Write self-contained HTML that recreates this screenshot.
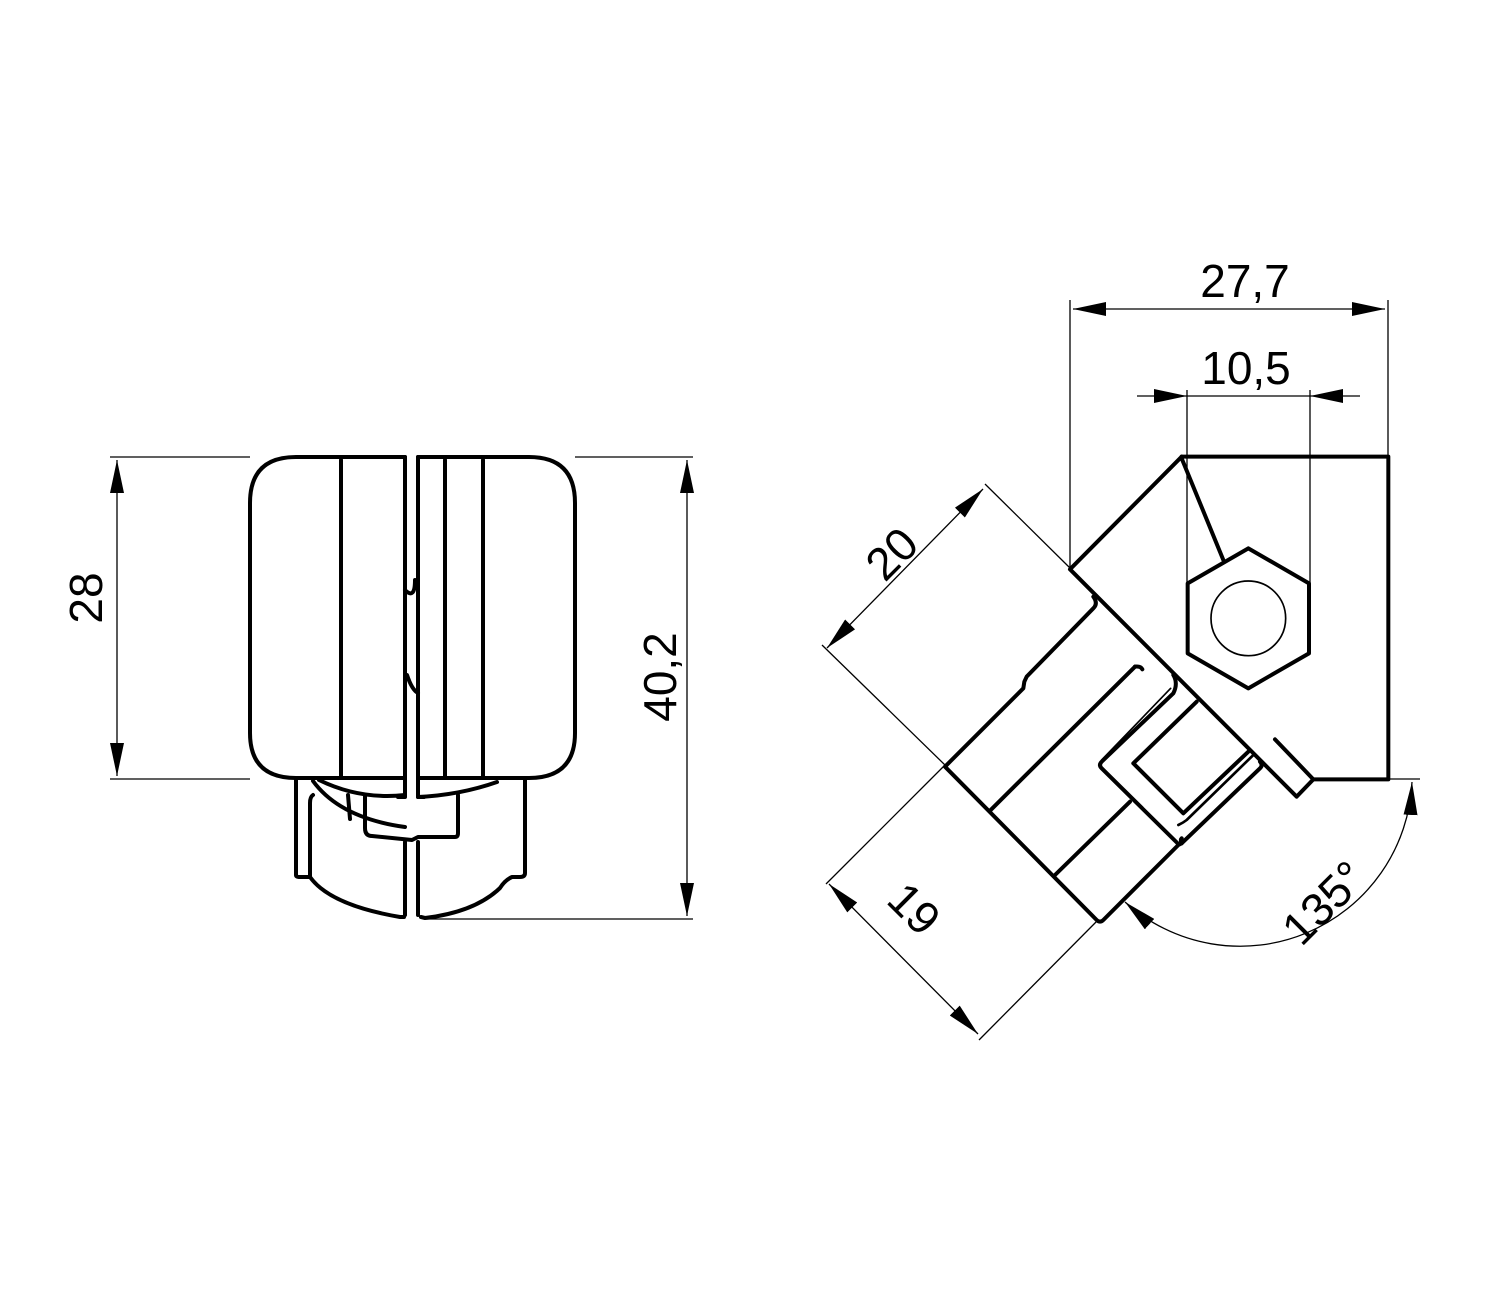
<!DOCTYPE html>
<html><head><meta charset="utf-8"><style>
html,body{margin:0;padding:0;background:#fff;}
svg{display:block;}
text{font-family:"Liberation Sans",sans-serif;font-size:46px;fill:#000;}
</style></head><body>
<svg width="1500" height="1300" viewBox="0 0 1500 1300" xmlns="http://www.w3.org/2000/svg">
<defs>
<marker id="a" viewBox="0 0 33 14" refX="33" refY="7" markerWidth="33" markerHeight="14" markerUnits="userSpaceOnUse" orient="auto-start-reverse">
<path d="M0,0 L33,7 L0,14 Z" fill="#000"/>
</marker>
</defs>
<rect width="1500" height="1300" fill="#fff"/>

<!-- LEFT VIEW -->
<g fill="none" stroke="#000" stroke-width="4" stroke-linejoin="round" stroke-linecap="round">
<path d="M405,457 L296,457 Q250,457 250,503 L250,733 Q250,778 296,778 L405,778"/>
<path d="M405,457 L405,797 L398,797"/>
<path d="M418,457 L529,457 Q575,457 575,503 L575,733 Q575,778 529,778 L418,778"/>
<path d="M418,457 L418,797 L424,797"/>
<line x1="341" y1="460" x2="341" y2="778"/>
<line x1="445" y1="460" x2="445" y2="778"/>
<line x1="483" y1="460" x2="483" y2="778"/>
<path d="M405,590 Q415,600 415,580" />
<path d="M407,675 Q412,690 418,693"/>
<!-- bottom -->
<path d="M296,780 L296,875 Q296,877 300,877 L310,877"/>
<path d="M313,795 Q310,797 310,803 L310,877 Q330,905 400,917 L404,917"/>
<path d="M313,781 Q340,818 405,827"/>
<path d="M319,780 Q360,800 405,795"/>
<path d="M348,795 L350,819"/>
<path d="M365,795 L365,828 Q365,836 372,836 L412,840 L418,837 L455,837 Q458,837 458,833 L458,795"/>
<path d="M418,797 Q460,795 497,782"/>
<path d="M525,780 L525,873 Q525,877 520,877 L512,877 Q505,880 500,888 Q475,912 425,918 L421,917"/>
<line x1="405" y1="842" x2="405" y2="915"/>
<line x1="418" y1="842" x2="418" y2="915"/>
</g>

<!-- LEFT DIMENSIONS -->
<g stroke="#000" stroke-width="1.3" fill="none">
<line x1="110" y1="457" x2="250" y2="457"/>
<line x1="110" y1="779" x2="250" y2="779"/>
<line x1="117" y1="460" x2="117" y2="776" marker-start="url(#a)" marker-end="url(#a)"/>
<line x1="575" y1="457" x2="693" y2="457"/>
<line x1="425" y1="919" x2="693" y2="919"/>
<line x1="687" y1="460" x2="687" y2="916" marker-start="url(#a)" marker-end="url(#a)"/>
</g>
<text x="0" y="0" transform="translate(102,598) rotate(-90)" text-anchor="middle">28</text>
<text x="0" y="0" transform="translate(676,677) rotate(-90)" text-anchor="middle">40,2</text>

<!-- RIGHT VIEW (zoom coords) -->
<g transform="translate(930,440) scale(0.33333)" fill="none" stroke="#000" stroke-width="12" stroke-linejoin="round" stroke-linecap="round">
<path d="M755,50 L1375,50 L1375,1018 L1150,1018"/>
<path d="M755,50 L420,388 L1100,1070 L1150,1018 L1035,898"/>
<path d="M755,55 L880,360"/>
<path d="M955,325 L1137,430 L1137,640 L955,745 L773,640 L773,430 Z"/>
<circle cx="955" cy="535" r="112" stroke-width="5"/>
<!-- outer block -->
<path d="M490,470 Q505,490 490,505 L290,710 L283,725 L280,745 L45,980 L500,1440 Q510,1450 520,1440 L745,1215 L755,1210 L990,985 Q1000,975 990,965"/>
<line x1="180" y1="1112" x2="615" y2="680"/>
<path d="M615,680 Q632,678 637,688"/>
<line x1="375" y1="1305" x2="600" y2="1085"/>
<path d="M730,705 Q745,730 730,760 L515,965 Q505,975 515,985 L745,1212"/>
<path d="M722,745 L515,960" stroke-width="5"/>
<path d="M800,785 L610,970 L760,1120 L955,935"/>
<path d="M745,1155 Q760,1148 770,1140 L970,945" stroke-width="8"/>
<path d="M755,1210 Q750,1200 755,1195"/>
</g>

<!-- RIGHT DIMENSIONS -->
<g stroke="#000" stroke-width="1.3" fill="none">
<line x1="1070" y1="300" x2="1070" y2="568"/>
<line x1="1388" y1="300" x2="1388" y2="457"/>
<line x1="1073" y1="309" x2="1385" y2="309" marker-start="url(#a)" marker-end="url(#a)"/>
<line x1="1187" y1="390" x2="1187" y2="583"/>
<line x1="1310" y1="390" x2="1310" y2="583"/>
<line x1="1137" y1="396" x2="1187" y2="396" marker-end="url(#a)"/>
<line x1="1360" y1="396" x2="1310" y2="396" marker-end="url(#a)"/>
<line x1="1187" y1="396" x2="1310" y2="396"/>
<!-- 20 -->
<line x1="1070" y1="568" x2="985" y2="484"/>
<line x1="945" y1="765" x2="822" y2="645"/>
<line x1="983" y1="489" x2="827" y2="648" marker-start="url(#a)" marker-end="url(#a)"/>
<!-- 19 -->
<line x1="945" y1="765" x2="826" y2="884"/>
<line x1="1098" y1="920" x2="979" y2="1040"/>
<line x1="829" y1="884" x2="978" y2="1034" marker-start="url(#a)" marker-end="url(#a)"/>
<!-- 135 -->
<line x1="1388" y1="779" x2="1420" y2="779"/>
<path d="M1412,782 A172,172 0 0 1 1125,902" marker-start="url(#a)" marker-end="url(#a)"/>
</g>
<text x="1245" y="297" text-anchor="middle">27,7</text>
<text x="1246" y="384" text-anchor="middle">10,5</text>
<text x="0" y="0" transform="translate(903,565) rotate(-45)" text-anchor="middle">20</text>
<text x="0" y="0" transform="translate(903,920) rotate(45)" text-anchor="middle">19</text>
<text x="0" y="0" transform="translate(1335,914) rotate(-45)" text-anchor="middle">135°</text>
</svg>
</body></html>
